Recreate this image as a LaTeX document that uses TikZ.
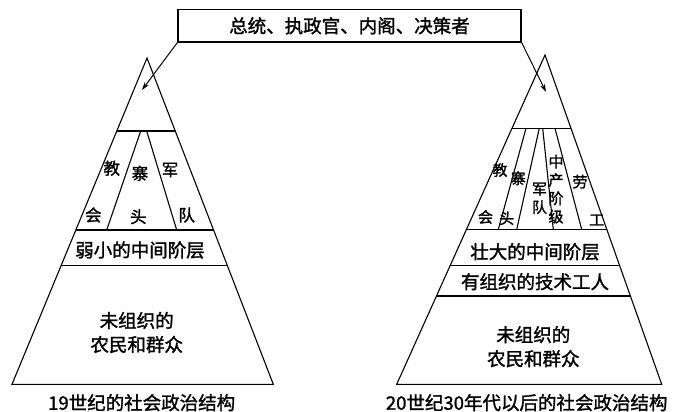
\documentclass[tikz,border=0pt]{standalone}
\usepackage{fontspec}
\newfontfamily\cjk[FakeBold=1.5]{Noto Sans CJK SC}
\usetikzlibrary{arrows.meta}

\tikzset{
  lbl/.style={font=\cjk\fontsize{18.5}{24}\selectfont, inner sep=0pt, align=center},
  cell/.style={lbl, font=\cjk\fontsize{16.5}{18.3}\selectfont},
  thin cell/.style={lbl, font=\cjk\fontsize{15}{18.3}\selectfont},
  layer/.style={line width=1.1pt},
  pointer/.style={line width=1pt, -{Stealth[length=8pt,width=5pt]}},
}

\begin{document}
\begin{tikzpicture}[x=1pt,y=-1pt]
\useasboundingbox (0,0) rectangle (675,412);

% top box
\node[lbl, draw, line width=1.4pt, minimum width=343pt, minimum height=32.5pt] (top) at (349.5,25.75) {总统、执政官、内阁、决策者};

% left pyramid
\coordinate (lA) at (147,58);
\coordinate (lL) at (12,384.3);
\coordinate (lR) at (273.3,384.3);
\begin{scope}[layer]
  \clip (lA) -- (lL) -- (lR) -- cycle;
  \foreach \y in {131,230,265.7}
    \draw (0,\y) -- (300,\y);
  \draw (140.7,131) -- (106.7,230);
  \draw (146.7,131) -- (176.7,230);
\end{scope}
\draw[layer, line join=miter] (lA) -- (lL) -- (lR) -- cycle;

\node[cell] (lJiao) at (111.7,168.3) {教};
\node[cell] (lHui)  at (93.3,215)    {会};
\node[cell] (lZhai) at (140,173.3)   {寨};
\node[cell] (lTou)  at (138.3,216.7) {头};
\node[cell] (lJun)  at (170,170)     {军};
\node[cell] (lDui)  at (186.7,215)   {队};
\node[lbl] (lMid)  at (140,250)     {弱小的中间阶层};
\node[lbl] (lMass) at (136.7,332.5) {未组织的\\农民和群众};
\node[lbl] (lCap)  at (141.7,402.7) {19世纪的社会政治结构};

% right pyramid
\coordinate (rA) at (545,55);
\coordinate (rL) at (396.7,384.3);
\coordinate (rR) at (661.7,384.3);
\begin{scope}[layer]
  \clip (rA) -- (rL) -- (rR) -- cycle;
  \foreach \y in {128.3,229.5,265.7,296}
    \draw (380,\y) -- (680,\y);
  \draw (526,128.3) -- (498.3,229.5);
  \draw (539.3,128.3) -- (516.7,229.5);
  \draw (542.7,128.3) -- (553.3,229.5);
  \draw (555,128.3) -- (581.7,229.5);
\end{scope}
\draw[layer, line join=miter] (rA) -- (rL) -- (rR) -- cycle;

\node[thin cell] (rJiao) at (500,170)     {教};
\node[thin cell] (rHui)  at (485.5,217)   {会};
\node[thin cell] (rZhai) at (518.3,178.3) {寨};
\node[thin cell] (rTou)  at (506.7,218.3) {头};
\node[thin cell] (rJun)  at (539.5,198.3) {军\\队};
\node[thin cell] (rMidCls) at (556,189.2) {中\\产\\阶\\级};
\node[thin cell] (rLao)  at (580,181.7)   {劳};
\node[thin cell] (rGong) at (596.7,220)   {工};
\node[lbl] (rMid)  at (535,251.7)   {壮大的中间阶层};
\node[lbl] (rTech) at (535,281.7)   {有组织的技术工人};
\node[lbl] (rMass) at (533.3,346.7) {未组织的\\农民和群众};
\node[lbl] (rCap)  at (526.7,402.7) {20世纪30年代以后的社会政治结构};

% pointers from the top box
\coordinate (lIn) at (142,90);
\coordinate (rIn) at (546,92);
\draw[pointer] (top.south west) -- (lIn);
\draw[pointer] (top.south east) -- (rIn);
\end{tikzpicture}
\end{document}
